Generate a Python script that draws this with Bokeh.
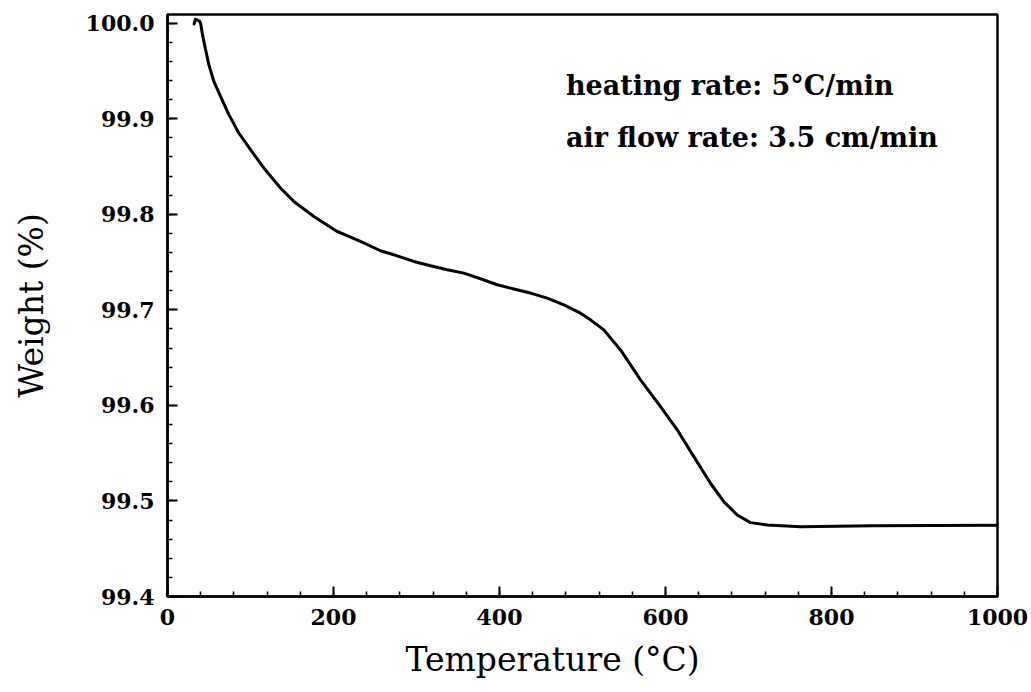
from bokeh.plotting import figure
from bokeh.models import FixedTicker, Label, Range1d, PrintfTickFormatter, Title
from bokeh.embed import file_html
from bokeh.resources import INLINE

# TGA trace: temperature (°C) vs. remaining weight (%)
temperature = [32.0, 33.7, 38.6, 39.8, 41.8, 45.0, 49.8, 55.8, 63.9, 73.9,
               85.9, 100.0, 116.0, 136.1, 152.2, 176.3, 204.4, 232.5, 256.6,
               276.7, 296.8, 316.9, 337.0, 357.0, 377.1, 397.2, 417.3, 437.3,
               457.5, 477.5, 497.6, 509.6, 525.7, 545.8, 569.9, 594.0, 614.1,
               634.1, 654.2, 670.2, 686.4, 702.4, 722.5, 762.7, 850.0, 1000.0]
weight = [99.999, 100.004, 100.002, 100.000, 99.9897, 99.9757, 99.9565,
          99.939, 99.9234, 99.9042, 99.885, 99.8675, 99.8484, 99.8274,
          99.8134, 99.7977, 99.782, 99.7715, 99.7618, 99.7565, 99.7506,
          99.7461, 99.7419, 99.7384, 99.7325, 99.7262, 99.7217, 99.7175,
          99.7122, 99.7052, 99.6965, 99.6895, 99.679, 99.658, 99.6267,
          99.5987, 99.5744, 99.5464, 99.5185, 99.4993, 99.4853, 99.4773,
          99.4749, 99.4731, 99.4740, 99.4745]

x_major = [0, 200, 400, 600, 800, 1000]
x_minor = [40 * i for i in range(26)]
y_major = [99.4, 99.5, 99.6, 99.7, 99.8, 99.9, 100.0]
y_minor = [round(99.4 + 0.02 * i, 2) for i in range(31)]

notes = ["heating rate: 5°C/min", "air flow rate: 3.5 cm/min"]
note_y = [99.9346, 99.8801]

SERIF = "DejaVu Serif"

p = figure(width=1031, height=692,
           x_range=Range1d(0, 1000), y_range=Range1d(99.4, 100.009),
           output_backend="svg", toolbar_location=None,
           min_border_left=167, min_border_right=34,
           min_border_top=14, min_border_bottom=96)

p.background_fill_color = "white"
p.border_fill_color = "white"
p.grid.visible = False
p.outline_line_color = "black"
p.outline_line_width = 2.5
p.outline_line_alpha = 1.0

p.line(temperature, weight, line_color="black", line_width=3,
       line_join="round", line_cap="round")

p.xaxis.ticker = FixedTicker(ticks=x_major, minor_ticks=x_minor)
p.yaxis.ticker = FixedTicker(ticks=y_major, minor_ticks=y_minor)
p.xaxis.formatter = PrintfTickFormatter(format="%d")
p.yaxis.formatter = PrintfTickFormatter(format="%.1f")

for ax in (p.xaxis[0], p.yaxis[0]):
    ax.axis_line_color = "black"
    ax.axis_line_width = 2.5
    ax.major_tick_line_color = "black"
    ax.major_tick_line_width = 2
    ax.minor_tick_line_color = "black"
    ax.minor_tick_line_width = 1.6
    ax.major_tick_in = 10
    ax.major_tick_out = 0
    ax.minor_tick_in = 5
    ax.minor_tick_out = 0
    ax.major_label_text_font = SERIF
    ax.major_label_text_font_size = "22px"
    ax.major_label_text_font_style = "bold"
    ax.major_label_text_color = "black"
    ax.axis_label_text_font = SERIF
    ax.axis_label_text_font_size = "33px"
    ax.axis_label_text_font_style = "normal"
    ax.axis_label_text_color = "black"

p.yaxis.axis_label = "Weight (%)"
p.xaxis.major_label_standoff = 12
p.yaxis.major_label_standoff = 13
p.yaxis.axis_label_standoff = 32

# x-axis title as a bottom title, set slightly left of the frame centre
p.add_layout(Title(text="Temperature (°C)", align="left", offset=238,
                   text_font=SERIF, text_font_size="33px",
                   text_font_style="normal", text_color="black",
                   standoff=20), "below")

for text, ypos in zip(notes, note_y):
    p.add_layout(Label(x=480, y=ypos, text=text, text_font=SERIF,
                       text_font_size="27px", text_font_style="bold",
                       text_color="black", text_baseline="middle"))

open("out.html", "w").write(file_html(p, INLINE))
